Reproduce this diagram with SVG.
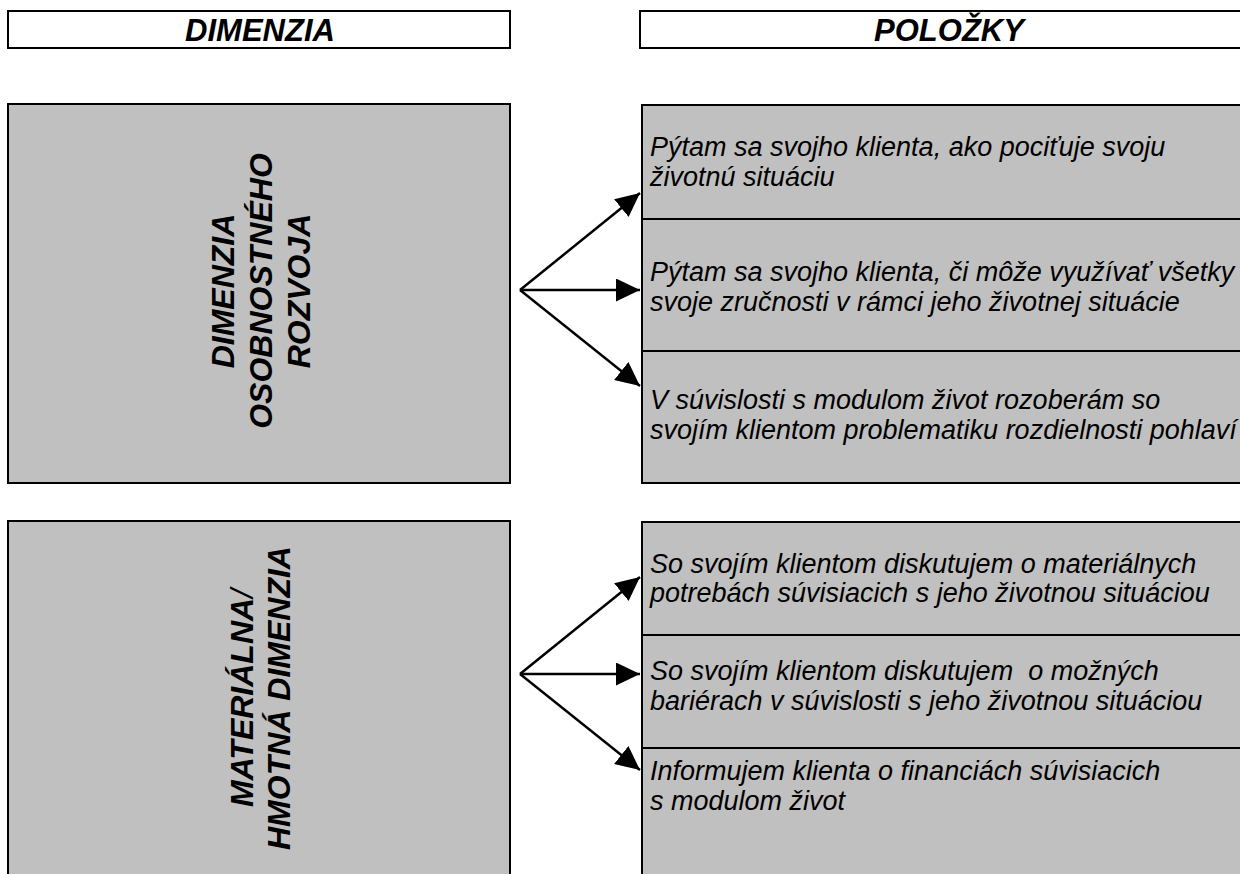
<svg xmlns="http://www.w3.org/2000/svg" width="1240" height="874" viewBox="0 0 1240 874">
<style>
.hdr{fill:#fff;stroke:#000;stroke-width:2}
.box{fill:#c0c0c0;stroke:#000;stroke-width:2}
.ht{font-family:"Liberation Sans",Arial,sans-serif;font-weight:bold;font-style:italic;font-size:31px;fill:#000;text-anchor:middle}
.vt{font-family:"Liberation Sans",Arial,sans-serif;font-weight:bold;font-style:italic;font-size:32px;fill:#000;text-anchor:middle}
.it{font-family:"Liberation Sans",Arial,sans-serif;font-style:italic;font-size:27px;fill:#000}
.con{stroke:#000;stroke-width:2.5;fill:none;marker-end:url(#ah)}
</style>
<defs>
<marker id="ah" markerUnits="userSpaceOnUse" markerWidth="25" markerHeight="24" refX="24" refY="11.5" orient="auto">
<path d="M0,0 L24,11.5 L0,23 z" fill="#000"/>
</marker>
</defs>
<rect width="1240" height="874" fill="#fff"/>

<g id="header-dimenzia">
<rect class="hdr" x="8" y="11" width="502" height="37"/>
<text class="ht" x="260" y="41">DIMENZIA</text>
</g>
<g id="header-polozky">
<rect class="hdr" x="640" y="11" width="615" height="37"/>
<text class="ht" x="949" y="41">POLOŽKY</text>
</g>

<g id="dim-osobnostny">
<rect class="box" x="8" y="104" width="502" height="379"/>
<text class="vt" transform="translate(234,291) rotate(-90)">DIMENZIA</text>
<text class="vt" transform="translate(272,291) rotate(-90)">OSOBNOSTNÉHO</text>
<text class="vt" transform="translate(310,291) rotate(-90)">ROZVOJA</text>
</g>

<g id="item-1">
<rect class="box" x="642" y="105" width="610" height="114"/>
<text class="it" x="650" y="156">Pýtam sa svojho klienta, ako pociťuje svoju</text>
<text class="it" x="650" y="186">životnú situáciu</text>
</g>
<g id="item-2">
<rect class="box" x="642" y="219" width="610" height="132"/>
<text class="it" x="650" y="281">Pýtam sa svojho klienta, či môže využívať všetky</text>
<text class="it" x="650" y="311">svoje zručnosti v rámci jeho životnej situácie</text>
</g>
<g id="item-3">
<rect class="box" x="642" y="351" width="610" height="132"/>
<text class="it" x="650" y="409">V súvislosti s modulom život rozoberám so</text>
<text class="it" x="650" y="439">svojím klientom problematiku rozdielnosti pohlaví</text>
</g>

<g id="dim-materialna">
<rect class="box" x="8" y="521" width="502" height="365"/>
<text class="vt" transform="translate(253,698) rotate(-90)">MATERIÁLNA<tspan font-weight="normal">/</tspan></text>
<text class="vt" transform="translate(290,698) rotate(-90)">HMOTNÁ DIMENZIA</text>
</g>

<g id="item-4">
<rect class="box" x="642" y="522" width="610" height="113"/>
<text class="it" x="650" y="573">So svojím klientom diskutujem o materiálnych</text>
<text class="it" x="650" y="602">potrebách súvisiacich s jeho životnou situáciou</text>
</g>
<g id="item-5">
<rect class="box" x="642" y="635" width="610" height="113"/>
<text class="it" x="650" y="680" xml:space="preserve">So svojím klientom diskutujem  o možných</text>
<text class="it" x="650" y="710">bariérach v súvislosti s jeho životnou situáciou</text>
</g>
<g id="item-6">
<rect class="box" x="642" y="748" width="610" height="140"/>
<text class="it" x="650" y="780">Informujem klienta o financiách súvisiacich</text>
<text class="it" x="650" y="810">s modulom život</text>
</g>

<g id="connectors">
<line class="con" x1="520" y1="290" x2="640" y2="193"/>
<line class="con" x1="520" y1="290" x2="640" y2="290"/>
<line class="con" x1="520" y1="290" x2="640" y2="386"/>
<line class="con" x1="520" y1="674" x2="640" y2="577"/>
<line class="con" x1="520" y1="674" x2="640" y2="674"/>
<line class="con" x1="520" y1="674" x2="640" y2="770"/>
</g>
</svg>
